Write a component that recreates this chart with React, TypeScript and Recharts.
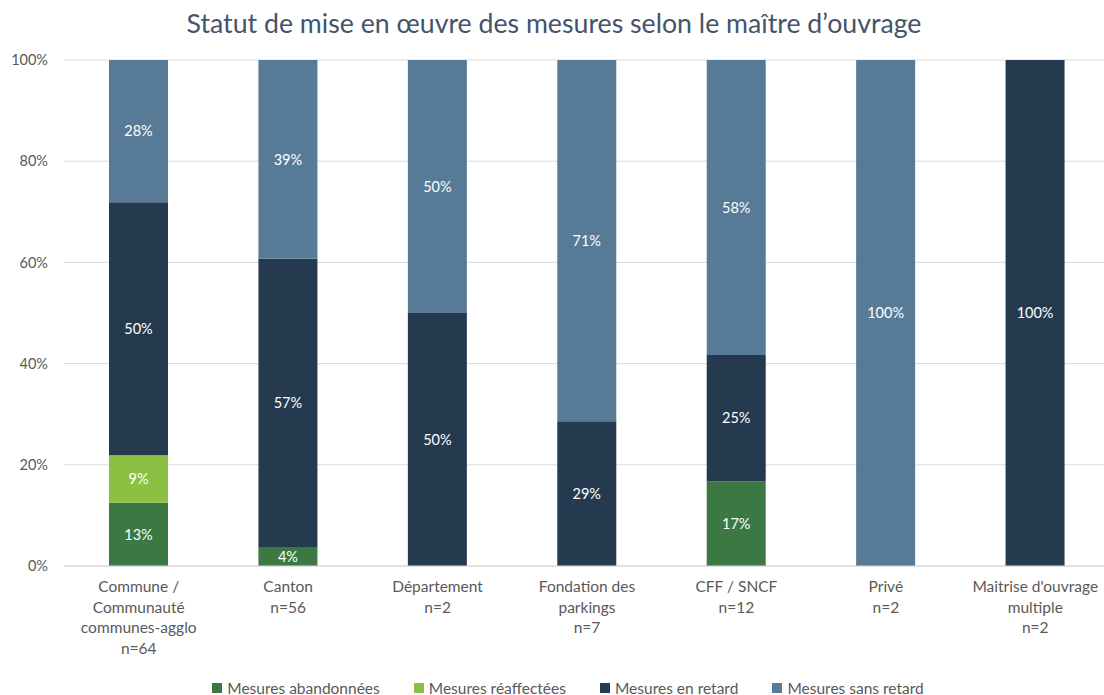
import { BarChart, Bar, XAxis, YAxis, CartesianGrid, Legend, LabelList } from "recharts";

const categories = [
  "Commune /\nCommunauté\ncommunes-agglo\nn=64",
  "Canton\nn=56",
  "Département\nn=2",
  "Fondation des\nparkings\nn=7",
  "CFF / SNCF\nn=12",
  "Privé\nn=2",
  "Maitrise d'ouvrage\nmultiple\nn=2",
];

const abandonnees = [12.5, 3.6, 0, 0, 16.7, 0, 0];
const reaffectees = [9.4, 0, 0, 0, 0, 0, 0];
const enRetard = [50, 57.1, 50, 28.6, 25, 0, 100];
const sansRetard = [28.1, 39.3, 50, 71.4, 58.3, 100, 0];

const yTicks = [0, 20, 40, 60, 80, 100];

const data = categories.map((name, i) => ({
  name,
  abandonnees: abandonnees[i],
  reaffectees: reaffectees[i],
  enRetard: enRetard[i],
  sansRetard: sansRetard[i],
}));

const series = [
  { key: "abandonnees", label: "Mesures abandonnées", color: "#3b7843" },
  { key: "reaffectees", label: "Mesures réaffectées", color: "#8cc043" },
  { key: "enRetard", label: "Mesures en retard", color: "#253a4f" },
  { key: "sansRetard", label: "Mesures sans retard", color: "#577a96" },
];

const font = "Lato, 'Open Sans', sans-serif";

const CategoryTick = (props: any) => {
  const { x, y, payload } = props;
  const lines = String(payload.value).split("\n");
  return (
    <text x={x} y={y + 18} textAnchor="middle" fill="#595959" fontSize={15.5} fontFamily={font}>
      {lines.map((l, i) => (
        <tspan key={i} x={x} dy={i === 0 ? 0 : 20.5}>
          {l}
        </tspan>
      ))}
    </text>
  );
};

const LegendContent = () => (
  <div style={{ display: "flex", justifyContent: "center", gap: 34, height: 25, alignItems: "center", fontFamily: font, fontSize: 15.5, color: "#595959", paddingLeft: 18, transform: "translateY(9px)" }}>
    {series.map((s) => (
      <div key={s.key} style={{ display: "flex", alignItems: "center", gap: 5 }}>
        <span style={{ width: 10, height: 10, background: s.color, display: "inline-block" }} />
        <span>{s.label}</span>
      </div>
    ))}
  </div>
);

const fmt = (v: any) => (Number(v) > 0 ? `${Math.round(Number(v))}%` : "");

export default function App() {
  return (
    <div style={{ position: "absolute", left: 0, top: 0, width: 1104, height: 695, background: "#fff", overflow: "hidden" }}>
      <div style={{ position: "absolute", top: 7, left: 0, width: 1104, textAlign: "center", fontFamily: font, fontSize: 26.7, color: "#44546a", paddingLeft: 2 }}>
        Statut de mise en œuvre des mesures selon le maître d’ouvrage
      </div>
      <BarChart width={1104} height={695} data={data} margin={{ top: 60, right: -6, left: 8, bottom: 4 }} barSize={59}>
        <CartesianGrid vertical={false} stroke="#d9d9d9" />
        <XAxis dataKey="name" tick={<CategoryTick />} tickLine={false} axisLine={{ stroke: "#d9d9d9" }} height={100} interval={0} />
        <YAxis domain={[0, 100]} ticks={yTicks} tickFormatter={(v) => `${v}%`} axisLine={false} tickLine={false} width={56} tick={{ fill: "#595959", fontSize: 14.5, fontFamily: font, dx: -8 }} />
        <Legend verticalAlign="bottom" content={<LegendContent />} wrapperStyle={{ height: 25 }} />
        {series.map((s) => (
          <Bar key={s.key} dataKey={s.key} name={s.label} stackId="a" fill={s.color} isAnimationActive={false}>
            <LabelList dataKey={s.key} position="center" fill="#fff" fontSize={14.5} fontFamily={font} formatter={fmt} />
          </Bar>
        ))}
      </BarChart>
    </div>
  );
}
